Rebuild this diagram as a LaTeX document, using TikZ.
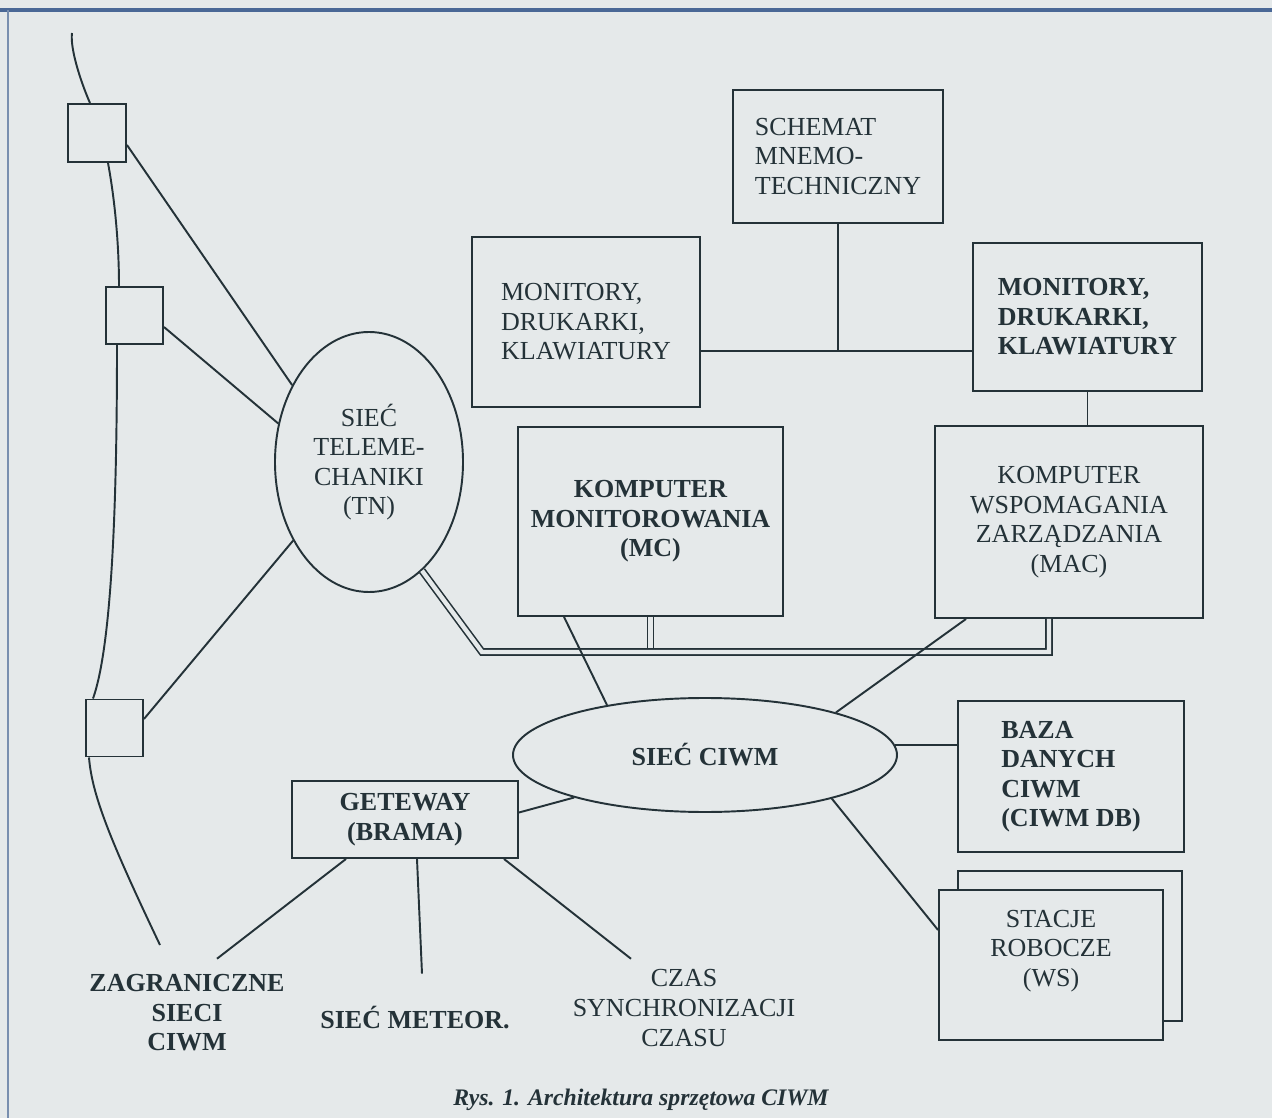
\documentclass[tikz,border=0pt]{standalone}
\usepackage{fontspec}
\setmainfont{Liberation Serif}
\usetikzlibrary{positioning, shapes.geometric, calc}
\definecolor{paperc}{RGB}{229,233,234}
\definecolor{inkc}{RGB}{36,50,56}
\definecolor{framec}{RGB}{74,104,150}
\newcommand{\px}{0.02cm}
\newcommand{\labfont}{\fontsize{14.8}{16.8}\selectfont}

\begin{document}
\begin{tikzpicture}[x=\px, y=-\px, font=\labfont, color=inkc, line width=1.1pt,
  box/.style={draw=inkc, fill=paperc, rectangle, inner sep=0pt, align=center},
  oval/.style={draw=inkc, fill=paperc, ellipse, inner sep=0pt, align=center},
  tap/.style={draw=inkc, fill=paperc, rectangle, inner sep=0pt, minimum size=57*\px},
  bus/.style={draw=inkc, double=paperc, double distance=2.5pt, line width=0.9pt},
  lab/.style={align=center, inner sep=0pt}]

% page: pixel units of the scan, y pointing down
\useasboundingbox (0,0) rectangle (1272,1118);
\fill[paperc] (0,0) rectangle (1272,1118);
\draw[framec, line width=2pt] (0,10) -- (1272,10);
\draw[framec!70!paperc, line width=1.4pt] (8,10) -- (8,1118);

% boxes (centre, size)
\node[box, minimum width=210*\px, minimum height=133*\px, align=left] (schem) at (838,156.5) {SCHEMAT\\MNEMO-\\TECHNICZNY};
\node[box, minimum width=228*\px, minimum height=170*\px, align=left] (monl) at (586,322) {MONITORY,\\DRUKARKI,\\KLAWIATURY};
\node[box, minimum width=229*\px, minimum height=148*\px, align=left, font=\labfont\bfseries] (monr) at (1087.5,317) {MONITORY,\\DRUKARKI,\\KLAWIATURY};
\node[box, minimum width=265*\px, minimum height=189*\px, font=\labfont\bfseries] (mc) at (650.5,521.5) {KOMPUTER\\MONITOROWANIA\\(MC)};
\node[box, minimum width=268*\px, minimum height=192*\px] (mac) at (1069,522) {KOMPUTER\\WSPOMAGANIA\\ZARZĄDZANIA\\(MAC)};
\node[box, minimum width=226*\px, minimum height=151*\px, align=left, font=\labfont\bfseries] (baza) at (1071,776.5) {BAZA\\DANYCH\\CIWM\\(CIWM DB)};
\node[box, minimum width=224*\px, minimum height=150*\px] (wsback) at (1070,946) {};
\node[box, minimum width=224*\px, minimum height=150*\px] (ws) at (1051,965) {};
\node[lab] (wstxt) at ($(ws)+(0,-14)$) {STACJE\\ROBOCZE\\(WS)};
\node[box, minimum width=226*\px, minimum height=77*\px, font=\labfont\bfseries] (gw) at (405,819.5) {GETEWAY\\(BRAMA)};

% networks
\node[oval, minimum width=188*\px, minimum height=260*\px] (tn) at (369,462) {SIEĆ\\TELEME-\\CHANIKI\\(TN)};
\node[oval, minimum width=384*\px, minimum height=114*\px, font=\labfont\bfseries] (ciwm) at (705,755) {SIEĆ CIWM};

% taps on the line
\node[tap, minimum size=58*\px] (sq1) at (97,133) {};
\node[tap] (sq2) at (134.5,315.5) {};
\node[tap] (sq3) at (114.5,728) {};

% outside links
\node[lab, font=\labfont\bfseries] (zagr) at (187,1013) {ZAGRANICZNE\\SIECI\\CIWM};
\node[lab, font=\labfont\bfseries] (meteo) at (415,1018) {SIEĆ METEOR.};
\node[lab] (czas) at (684,1008) {CZAS\\SYNCHRONIZACJI\\CZASU};
\node[lab, font=\fontsize{13.5}{15}\selectfont\bfseries\itshape] (caption) at (641,1100) {Rys. 1. Architektura sprzętowa CIWM};

% line of the telemechanics network
\coordinate (cabtop) at (72,33);
\coordinate (cabend) at (160,945);
\draw (cabtop) .. controls (70,48) and (80,80) .. ($(sq1.north)+(-7,0)$);
\draw ($(sq1.south)+(11,0)$) .. controls (114,195) and (119,240) .. ($(sq2.north)+(-15.5,0)$);
\draw ($(sq2.south)+(-17.5,0)$) .. controls (117,470) and (114,640) .. ($(sq3.north)+(-21.5,0)$);
\draw ($(sq3.south)+(-25.5,0)$) .. controls (92,795) and (110,840) .. (cabend);
\draw ($(sq1.east)+(0,12)$) -- (tn.135);
\draw ($(sq2.east)+(0,11.5)$) -- (tn.157);
\draw ($(sq3.east)+(0,-9)$) -- (tn.226);

% double bus TN - MC - MAC
\coordinate (busw) at (482,652);
\coordinate (buse) at (1049,652);
\draw[bus] (mc.south) -- (mc.south |- busw);
\draw[bus] (tn.-64) -- (busw) -- (buse) -- (buse |- mac.south);

% upper right group
\coordinate (tee) at ($(schem.south)+(0,127)$);
\draw (schem.south) -- (tee);
\draw (tee -| monl.east) -- (tee -| monr.west);
\draw (monr.south) -- (monr.south |- mac.north);

% CIWM network links
\draw ($(mc.south west)+(47,0)$) -- (ciwm.153);
\draw ($(mac.south west)+(32,0)$) -- (ciwm.18);
\draw (ciwm.3) -- (ciwm.3 -| baza.west);
\draw (ciwm.-19) -- ($(ws.west)+(0,-35)$);
\draw ($(gw.east)+(0,-7)$) -- (ciwm.198);

% gateway fan-out
\draw ($(gw.south)+(-59,0)$) -- ($(zagr.north)+(30,-15)$);
\draw ($(gw.south)+(12,0)$) -- ($(meteo.north)+(7,-32)$);
\draw ($(gw.south)+(99,0)$) -- ($(czas.north)+(-53,-10)$);
\end{tikzpicture}
\end{document}
